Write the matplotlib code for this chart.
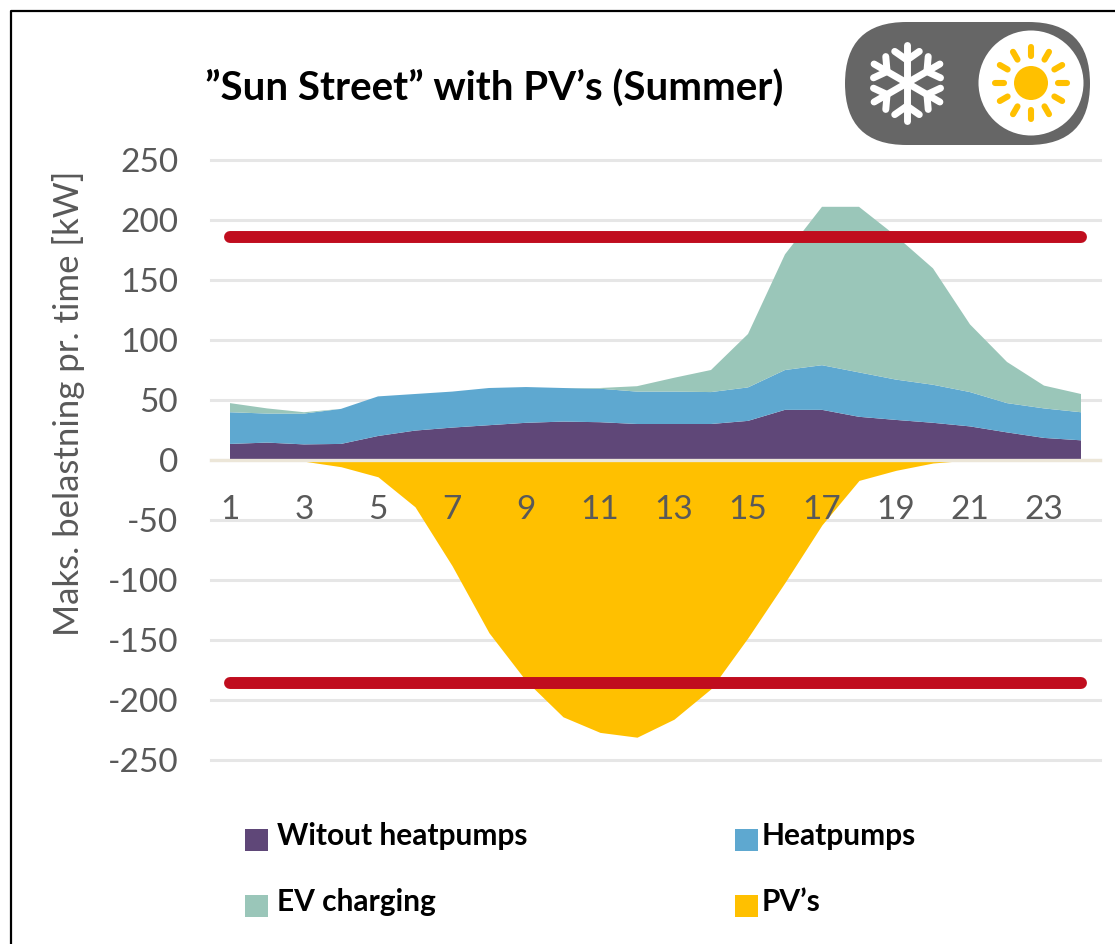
import numpy as np
import matplotlib
matplotlib.use("Agg")
import matplotlib.pyplot as plt
from matplotlib.patches import Circle, FancyBboxPatch, Rectangle

plt.rcParams["font.family"] = ["Lato", "DejaVu Sans"]
plt.rcParams["axes.unicode_minus"] = False

W, H = 1115, 944

hours = list(range(1, 25))
without_hp = [13.4, 14.5, 13, 13.4, 20, 24.5, 27, 29, 31, 32, 31.5, 30,
              30, 30, 32.6, 41.8, 41.8, 36, 33.4, 31, 28, 23, 18.4, 16.4]
heatpumps = [26.4, 24.2, 25.7, 29.2, 33, 30.5, 30, 31, 29.8, 28, 27.9, 27,
             27, 26.6, 27.9, 33.2, 37.2, 37, 33.6, 31.7, 28.6, 24.4, 24.6, 23.4]
ev_charging = [7.6, 4.3, 1.1, 0, 0, 0, 0, 0, 0, 0, 0.6, 4.5,
               11.5, 18.4, 44.5, 96.4, 132, 138, 119.7, 97, 56.4, 34.3, 19, 15.2]
pv = [0, 0, -1, -5.6, -14, -39, -88, -144, -184, -214, -227, -231,
      -216, -190.6, -148, -102, -54, -17, -8.6, -2.5, 0, 0, 0, 0]
limit = 186
yticks = [250, 200, 150, 100, 50, 0, -50, -100, -150, -200, -250]
xticks = list(range(1, 24, 2))

PURPLE = "#5f4778"
BLUE = "#5ea8d0"
TEAL = "#9ac6b9"
YELLOW = "#ffc000"
RED = "#c00d1e"
GRAY = "#595959"
GRID = "#e6e6e6"

fig = plt.figure(figsize=(W / 100, H / 100), dpi=100, facecolor="white")
ax = fig.add_axes([211.5 / W, 1 - 760 / H, 888 / W, 600 / H])

ax.stackplot(hours, without_hp, heatpumps, ev_charging,
             colors=[PURPLE, BLUE, TEAL], linewidth=0)
ax.fill_between(hours, pv, 0, color=YELLOW, linewidth=0)
for y in (limit, -limit):
    ax.plot([hours[0], hours[-1]], [y, y], color=RED, lw=8.6,
            solid_capstyle="round", zorder=3)

ax.set_xlim(0.5, 24.5)
ax.set_ylim(-250, 250)
ax.set_yticks(yticks)
ax.set_xticks(xticks)
ax.set_axisbelow(True)
ax.grid(axis="y", color=GRID, lw=2.2)
for line in ax.get_ygridlines():
    line.set_clip_on(False)
ax.xaxis.set_zorder(5)

for side in ("top", "left", "right"):
    ax.spines[side].set_visible(False)
ax.spines["bottom"].set_position(("data", 0))
ax.spines["bottom"].set_color("#ece6d8")
ax.spines["bottom"].set_linewidth(2.4)

ax.tick_params(axis="x", length=0, pad=25, labelsize=24, labelcolor=GRAY)
ax.tick_params(axis="y", length=0, pad=24, labelsize=24, labelcolor=GRAY)
ax.set_ylabel("Maks. belastning pr. time [kW]", fontsize=25, color=GRAY)
ax.yaxis.set_label_coords((85 - 211.5) / 888, (760 - 403) / 600)

# overlay in pixel coordinates for frame, title, icon and legend
ov = fig.add_axes([0, 0, 1, 1], zorder=10)
ov.set_xlim(0, W)
ov.set_ylim(H, 0)
ov.axis("off")
ov.patch.set_alpha(0)

ov.plot([W, 10.5, 10.5], [10.5, 10.5, H], color="black", lw=1.6)

ov.text(205, 89, "”Sun Street” with PV’s (Summer)", fontsize=29, fontweight="bold",
        color="black", ha="left", va="center")

# toggle icon
ov.add_patch(FancyBboxPatch((845, 22), 245, 123, boxstyle="round,pad=0,rounding_size=61.5",
                            fc="#666666", ec="none"))
ov.add_patch(Circle((1031, 83), 52.5, fc="white", ec="none"))
ov.add_patch(Circle((1031, 83), 17, fc=YELLOW, ec="none"))
for a in np.radians(np.arange(0, 360, 30)):
    ov.plot([1031 + 27 * np.cos(a), 1031 + 36 * np.cos(a)],
            [83 + 27 * np.sin(a), 83 + 36 * np.sin(a)],
            color=YELLOW, lw=4.4, solid_capstyle="round")
for a in np.radians(np.arange(30, 390, 60)):
    ov.plot([907, 907 + 38 * np.cos(a)], [83, 83 + 38 * np.sin(a)],
            color="white", lw=5, solid_capstyle="round")
    bx, by = 907 + 23 * np.cos(a), 83 + 23 * np.sin(a)
    for d in np.radians([-55, 55]):
        ov.plot([bx, bx + 15 * np.cos(a + d)], [by, by + 15 * np.sin(a + d)],
                color="white", lw=5, solid_capstyle="round")

# legend
legend = [("Witout heatpumps", PURPLE, 245, 829, 277),
          ("Heatpumps", BLUE, 735, 829, 762),
          ("EV charging", TEAL, 245, 895, 277),
          ("PV’s", YELLOW, 735, 895, 762)]
for label, color, x, y, tx in legend:
    ov.add_patch(Rectangle((x, y), 23, 22, fc=color, ec="none"))
    ov.text(tx, y + 7, label, fontsize=21.5, fontweight="bold", color="black",
            ha="left", va="center")

fig.savefig("out.png", dpi=100)
